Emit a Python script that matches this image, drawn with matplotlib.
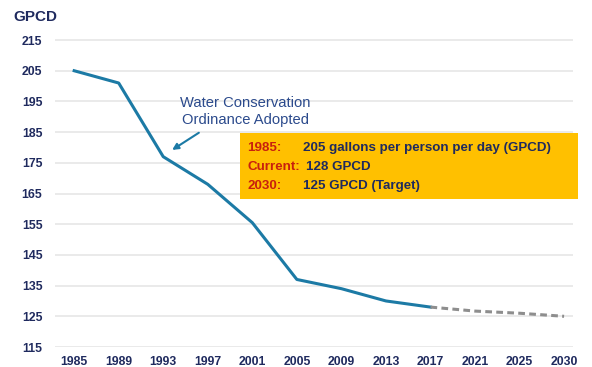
import matplotlib
matplotlib.use("Agg")
import matplotlib.pyplot as plt
from matplotlib.patches import Rectangle

# Data
year_labels = ["1985", "1989", "1993", "1997", "2001", "2005", "2009", "2013", "2017", "2021", "2025", "2030"]
actual_idx = [0, 1, 2, 3, 4, 5, 6, 7, 8]
actual_gpcd = [205, 201, 177, 168, 155.5, 137, 134, 130, 128]
proj_idx = [8, 9, 10, 11]
proj_gpcd = [128, 126.7, 126, 125]
y_ticks = [115, 125, 135, 145, 155, 165, 175, 185, 195, 205, 215]

navy = "#1F2A5E"
line_c = "#1C7AA5"

plt.rcParams['font.family'] = ['Liberation Sans', 'DejaVu Sans']

fig = plt.figure(figsize=(5.92, 3.67), dpi=100)
ax = fig.add_axes([55/592, 20/367, (573-55)/592, (347-33.9)/367])

ax.set_xlim(-0.43, 11.2)
ax.set_ylim(115, 217)
ax.set_yticks(y_ticks)
ax.set_xticks(range(len(year_labels)))
ax.set_xticklabels(year_labels)
ax.grid(axis='y', color='#E6E6E6', linewidth=1.2)
ax.set_axisbelow(True)
for s in ax.spines.values():
    s.set_visible(False)
ax.tick_params(axis='both', length=0, labelsize=8.8, labelcolor=navy)
ax.tick_params(axis='y', pad=9)
ax.tick_params(axis='x', pad=6.5)
for lab in ax.get_xticklabels() + ax.get_yticklabels():
    lab.set_fontweight('bold')

ax.plot(actual_idx, actual_gpcd, color=line_c, linewidth=2.2, solid_joinstyle='round', zorder=3)
ax.plot(proj_idx, proj_gpcd, color='#8E8E8E', linewidth=2.2, linestyle=(0, (2.2, 1.4)), zorder=3)

fig.text(13/592, 1-17/367, "GPCD", fontsize=11, fontweight='bold', color=navy, va='center', ha='left')

ax.text(3.84, 191.8, "Water Conservation\nOrdinance Adopted",
        ha='center', va='center', fontsize=10.6, color='#2B4A8C', linespacing=1.3)
ax.annotate("", xy=(2.20, 179.2), xytext=(2.80, 184.8),
            arrowprops=dict(arrowstyle='-|>', color=line_c, lw=1.5, mutation_scale=9,
                            shrinkA=0, shrinkB=0))

# Info box
fig.add_artist(Rectangle((240/592, 1-199/367), 338/592, 66/367, transform=fig.transFigure,
                         facecolor='#FFC000', edgecolor='none', zorder=5))
rows = [("1985:", "205 gallons per person per day (GPCD)", 148),
        ("Current:", "128 GPCD", 167),
        ("2030:", "125 GPCD (Target)", 186)]
for lab, val, py in rows:
    fig.text(247/592, 1-py/367, lab, fontsize=9.6, fontweight='bold', color='#C8200E',
             va='center', ha='left', zorder=6)
for lab, val, py in rows:
    fig.text(303/592 if lab != "Current:" else 306/592, 1-py/367, val, fontsize=9.6, fontweight='bold',
             color=navy, va='center', ha='left', zorder=6)

fig.savefig("out.png", dpi=100)
